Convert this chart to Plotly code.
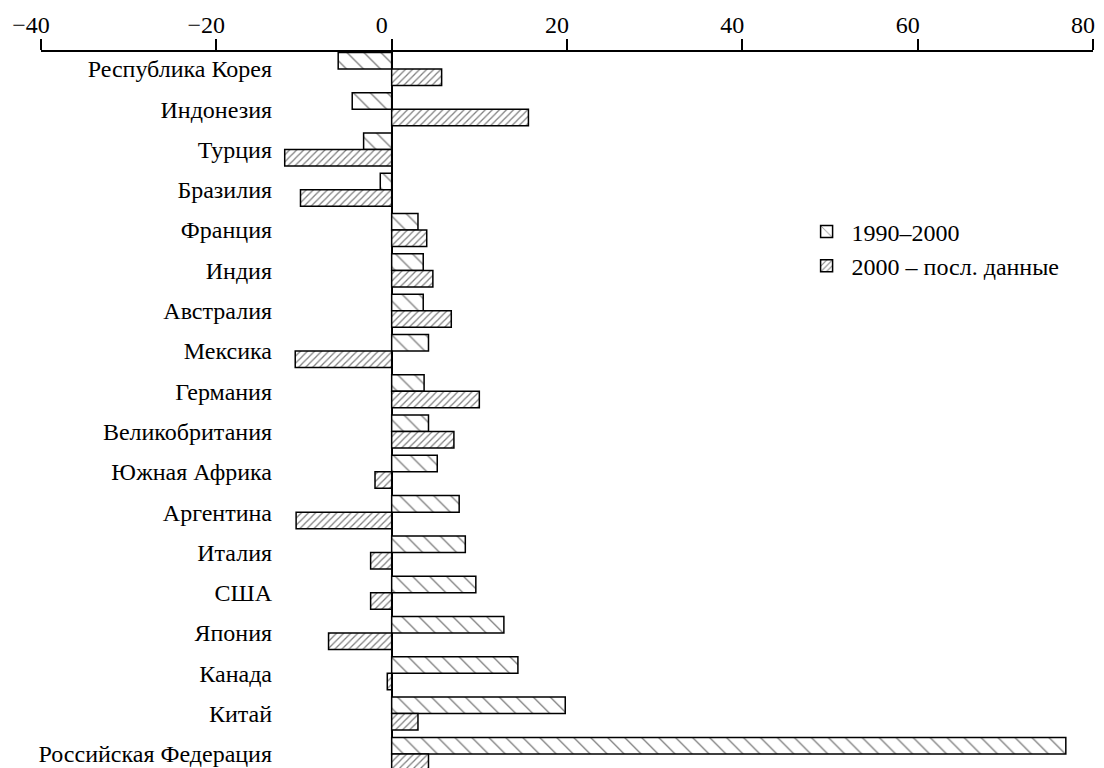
import plotly.graph_objects as go

countries = ["Республика Корея", "Индонезия", "Турция", "Бразилия", "Франция",
             "Индия", "Австралия", "Мексика", "Германия", "Великобритания",
             "Южная Африка", "Аргентина", "Италия", "США", "Япония", "Канада",
             "Китай", "Российская Федерация"]
v1990_2000 = [-6.1, -4.5, -3.2, -1.3, 3.0, 3.6, 3.6, 4.2, 3.7, 4.2, 5.2, 7.7,
              8.4, 9.6, 12.8, 14.4, 19.8, 76.9]
v2000_last = [5.7, 15.6, -12.2, -10.4, 4.0, 4.7, 6.8, -11.0, 10.0, 7.1, -1.9,
              -10.9, -2.4, -2.4, -7.2, -0.5, 3.0, 4.2]
series_names = ["1990–2000", "2000 – посл. данные"]
x_ticks = [-40, -20, 0, 20, 40, 60, 80]

FONT = "Liberation Serif, Times New Roman, serif"

fig = go.Figure()
fig.add_trace(go.Bar(
    y=countries, x=v1990_2000, orientation="h", name=series_names[0],
    marker=dict(color="white", line=dict(color="black", width=1.5),
                pattern=dict(shape="\\", size=12, solidity=0.11,
                             fgcolor="black", bgcolor="white", fillmode="overlay")),
))
fig.add_trace(go.Bar(
    y=countries, x=v2000_last, orientation="h", name=series_names[1],
    marker=dict(color="white", line=dict(color="black", width=1.5),
                pattern=dict(shape="/", size=5, solidity=0.25,
                             fgcolor="black", bgcolor="white", fillmode="overlay")),
))

fig.update_layout(
    width=1104, height=768,
    margin=dict(l=33, r=19, t=44, b=8, autoexpand=False),
    paper_bgcolor="white", plot_bgcolor="white",
    barmode="group", bargap=0.18, bargroupgap=0,
    font=dict(family=FONT, size=24, color="black"),
    showlegend=True,
    legend=dict(x=0.723, y=0.78, xanchor="left", yanchor="top",
                font=dict(family=FONT, size=24), bgcolor="rgba(0,0,0,0)",
                itemwidth=40, tracegroupgap=0),
    xaxis=dict(side="top", range=[-40, 80], tickvals=x_ticks,
               ticks="outside", ticklen=11, tickwidth=1.5, tickcolor="black",
               showline=True, linecolor="black", linewidth=1.5,
               showgrid=False, zeroline=True, zerolinecolor="black",
               zerolinewidth=1.5, tickfont=dict(family=FONT, size=24),
               ticklabelstandoff=-3, ticklabelshift=-10,
               automargin=False, fixedrange=True),
    yaxis=dict(type="category", categoryorder="array", categoryarray=countries,
               range=[17.35, -0.42], anchor="free", position=0.2196,
               side="left", showline=False, showgrid=False, ticks="",
               zeroline=False, tickfont=dict(family=FONT, size=24),
               automargin=False, fixedrange=True),
)

fig.write_html("out.html")
